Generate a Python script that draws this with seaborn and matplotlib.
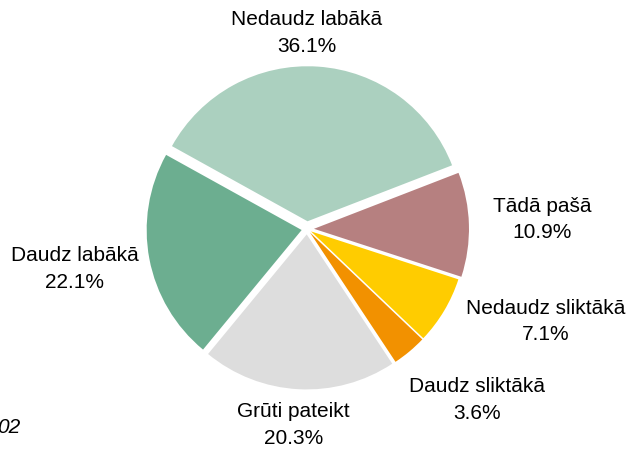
import numpy as np
import matplotlib
matplotlib.use("Agg")
import matplotlib.pyplot as plt
import seaborn as sns

# slices, clockwise from the top one
labels = ["Nedaudz labākā", "Tādā pašā", "Nedaudz sliktākā", "Daudz sliktākā", "Grūti pateikt", "Daudz labākā"]
shares = [36.1, 10.9, 7.1, 3.6, 20.3, 22.1]
colors = ["#abd0bf", "#b68080", "#ffcc00", "#f29100", "#dddddd", "#6cae90"]
explode = [0.05, 0.045, 0.03, 0.03, 0.035, 0.035]

# where the labels sit (radius, angle in degrees)
label_pos = [(1.27, 90), (1.52, 2.5), (1.65, -21), (1.55, -45), (1.26, -94), (1.52, 189.5)]

sns.set_theme(style="white")
plt.rcParams["font.family"] = ["Liberation Sans", "DejaVu Sans"]

fig = plt.figure(figsize=(6.27, 4.52), dpi=100)
ax = fig.add_axes([0, 0, 1, 1])

ax.pie(shares, colors=colors, explode=explode, startangle=151, counterclock=False,
       radius=1, wedgeprops={"linewidth": 0})

for lab, val, (r, a) in zip(labels, shares, label_pos):
    x = r * np.cos(np.radians(a))
    y = r * np.sin(np.radians(a))
    ax.text(x, y, f"{lab}\n{val:.1f}%", ha="center", va="center", fontsize=15,
            linespacing=1.5, color="#000000")

ax.text(20 / 155 - 307 / 155, (230 - 428) / 155, "02", ha="right", va="center",
        fontsize=15, style="italic", color="#000000")

ax.set_xlim(-307 / 155, (627 - 307) / 155)
ax.set_ylim((230 - 452) / 155, 230 / 155)
ax.set_aspect("equal", adjustable="datalim")
ax.axis("off")

fig.savefig("out.png", dpi=100)
